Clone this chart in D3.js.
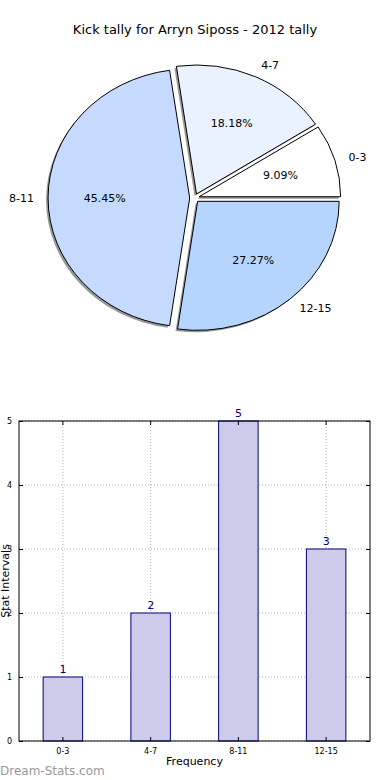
<!DOCTYPE html>
<html><head><meta charset="utf-8">
<script src="https://cdn.jsdelivr.net/npm/d3@7"></script>
<style>body{margin:0;background:#fff}svg{display:block}text{font-family:"DejaVu Sans",sans-serif}</style>
</head><body><svg id="c" width="390" height="780"></svg>
<script>
const categories = ["0-3","4-7","8-11","12-15"];
const values = [1,2,5,3];
const pieColors = ["#ffffff","#eaf2ff","#c6d9ff","#b5d5ff"];
const yTicks = [0,1,2,3,4,5];
const title = "Kick tally for Arryn Siposs - 2012 tally";

const svg = d3.select("#c");
svg.append("text").attr("x",195).attr("y",34).attr("text-anchor","middle")
  .attr("font-size",13).text(title);

// ---- Pie ----
const cx=194.5, cy=198, rx=141.5, ry=129, ex=0.034;
const total = d3.sum(values);
const pie = d3.pie().sort(null).value(d=>d)
  .startAngle(Math.PI/2).endAngle(Math.PI/2 - 2*Math.PI); // counterclockwise from east
const arcs = pie(values);
const arcGen = d3.arc().innerRadius(0).outerRadius(1);
const pg = svg.append("g");
function toMath(a){return Math.PI/2 - a;}
arcs.forEach((a,i)=>{
  const mid = toMath((a.startAngle+a.endAngle)/2);
  a.ox = cx + ex*rx*Math.cos(mid); a.oy = cy - ex*ry*Math.sin(mid); a.mid=mid;
});
arcs.forEach((a,i)=>{
  pg.append("path").attr("d",arcGen(a))
    .attr("transform",`translate(${a.ox-2},${a.oy+2}) scale(${rx},${ry})`)
    .attr("fill","#000").attr("opacity",0.4);
});
arcs.forEach((a,i)=>{
  pg.append("path").attr("d",arcGen(a))
    .attr("transform",`translate(${a.ox},${a.oy}) scale(${rx},${ry})`)
    .attr("fill",pieColors[i]).attr("stroke","#000").attr("stroke-width",1)
    .attr("vector-effect","non-scaling-stroke");
});
arcs.forEach((a,i)=>{
  const c=Math.cos(a.mid), s=Math.sin(a.mid);
  const lx=a.ox+1.1*rx*c, ly=a.oy-1.1*ry*s;
  pg.append("text").attr("x",lx).attr("y",ly).attr("dy","0.35em")
    .attr("text-anchor", c>0.0001?"start":(c<-0.0001?"end":"middle"))
    .attr("font-size",11).text(categories[i]);
  const px=a.ox+0.6*rx*c, py=a.oy-0.6*ry*s;
  pg.append("text").attr("x",px).attr("y",py).attr("dy","0.35em")
    .attr("text-anchor","middle").attr("font-size",11)
    .text((values[i]/total*100).toFixed(2)+"%");
});

// ---- Bar ----
const L=19, R=370, T=421, B=741;
const x = d3.scaleBand().domain(categories).range([L,R]);
const y = d3.scaleLinear().domain([0,5]).range([B,T]);
const bg = svg.append("g");
bg.selectAll(".gh").data(yTicks).join("line")
  .attr("x1",L).attr("x2",R).attr("y1",d=>y(d)).attr("y2",d=>y(d))
  .attr("stroke","#b0b0b0").attr("stroke-dasharray","1,2");
bg.selectAll(".gv").data(categories).join("line")
  .attr("x1",d=>x(d)+x.bandwidth()/2).attr("x2",d=>x(d)+x.bandwidth()/2)
  .attr("y1",T).attr("y2",B)
  .attr("stroke","#b0b0b0").attr("stroke-dasharray","1,2");
const bw = x.bandwidth()*0.45;
bg.selectAll(".bar").data(values).join("rect")
  .attr("x",(d,i)=>x(categories[i])+x.bandwidth()/2-bw/2)
  .attr("y",d=>y(d)).attr("width",bw).attr("height",d=>B-y(d))
  .attr("fill","#ccccea").attr("stroke","#000080").attr("stroke-width",1);
bg.selectAll(".vl").data(values).join("text")
  .attr("x",(d,i)=>x(categories[i])+x.bandwidth()/2).attr("y",d=>y(d)-4)
  .attr("text-anchor","middle").attr("font-size",11).attr("fill","#000080")
  .text(d=>d);
bg.append("rect").attr("x",L).attr("y",T).attr("width",R-L).attr("height",B-T)
  .attr("fill","none").attr("stroke","#000").attr("stroke-width",1);
const ya = d3.axisLeft(y).tickValues(yTicks).tickSize(-4).tickPadding(7).tickFormat(d3.format("d"));
const yg = bg.append("g").attr("transform",`translate(${L},0)`).call(ya);
yg.select(".domain").remove();
yg.selectAll("text").attr("font-size",8).attr("font-family","DejaVu Sans");
const yr = d3.axisRight(y).tickValues(yTicks).tickSize(-4).tickFormat("");
const yrg = bg.append("g").attr("transform",`translate(${R},0)`).call(yr);
yrg.select(".domain").remove();
const xa = d3.axisBottom(x).tickSize(-4).tickPadding(7);
const xg = bg.append("g").attr("transform",`translate(0,${B})`).call(xa);
xg.select(".domain").remove();
xg.selectAll("text").attr("font-size",8).attr("font-family","DejaVu Sans");
const xt = d3.axisTop(x).tickSize(-4).tickFormat("");
const xtg = bg.append("g").attr("transform",`translate(0,${T})`).call(xt);
xtg.select(".domain").remove();
svg.append("text").attr("x",(L+R)/2).attr("y",765).attr("text-anchor","middle")
  .attr("font-size",11).text("Frequency");
svg.append("text").attr("transform",`translate(9,${(T+B)/2}) rotate(-90)`)
  .attr("text-anchor","middle").attr("font-size",11).text("Stat Intervals");
svg.append("text").attr("x",0).attr("y",775).attr("font-size",12)
  .attr("fill","#999999").text("Dream-Stats.com");
</script></body></html>
